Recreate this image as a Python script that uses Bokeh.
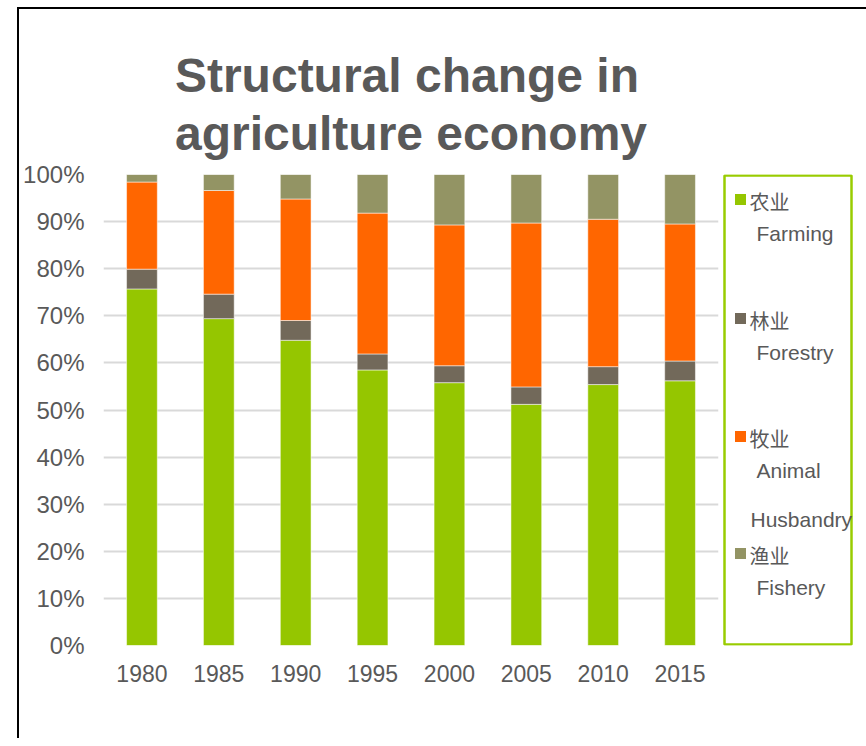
from bokeh.plotting import figure
from bokeh.layouts import row
from bokeh.models import (ColumnDataSource, Range1d, FactorRange, FixedTicker,
                          PrintfTickFormatter, InlineStyleSheet)
from bokeh.core.properties import value
from bokeh.embed import file_html
from bokeh.resources import INLINE

years = ["1980", "1985", "1990", "1995", "2000", "2005", "2010", "2015"]
farming = [75.7, 69.4, 64.8, 58.5, 55.8, 51.2, 55.4, 56.2]
forestry = [4.2, 5.2, 4.2, 3.4, 3.6, 3.7, 3.8, 4.2]
animal = [18.5, 22.0, 25.8, 29.9, 29.9, 34.8, 31.3, 29.1]
fishery = [1.6, 3.4, 5.2, 8.2, 10.7, 10.3, 9.5, 10.5]

series = ["farming", "forestry", "animal", "fishery"]
colors = ["#95c600", "#72695a", "#ff6600", "#939464"]
legend_cn = ["农业", "林业", "牧业", "渔业"]
legend_en = ["Farming", "Forestry", "Animal", "Fishery"]
y_ticks = [0, 10, 20, 30, 40, 50, 60, 70, 80, 90, 100]
title_text = "Structural change in\nagriculture economy"

TXT = "#595959"

src = ColumnDataSource(dict(years=years, farming=farming, forestry=forestry,
                            animal=animal, fishery=fishery))

# ---------------- main chart ----------------
p = figure(x_range=FactorRange(*years), y_range=Range1d(0, 100),
           width=722, height=738, output_backend="svg", toolbar_location=None,
           min_border_left=103, min_border_right=4, min_border_top=174,
           min_border_bottom=93)
p.outline_line_color = None
p.background_fill_color = "white"
p.border_fill_color = None
p.x_range.range_padding = 0
p.x_range.factor_padding = 0

p.vbar_stack(series, x="years", width=0.40, color=colors, source=src,
             line_color="white", line_width=1, line_alpha=0.5)

p.title.text = title_text
p.title.align = "center"
p.title.offset = 4
p.title.text_font = "Liberation Sans"
p.title.text_font_style = "bold"
p.title.text_font_size = "48px"
p.title.text_color = TXT
p.title.text_line_height = 1.09
p.title.standoff = 29

p.yaxis.ticker = FixedTicker(ticks=y_ticks)
p.yaxis.formatter = PrintfTickFormatter(format="%d%%")
for ax in (p.xaxis[0], p.yaxis[0]):
    ax.axis_line_color = None
    ax.major_tick_line_color = None
    ax.minor_tick_line_color = None
    ax.major_tick_in = 0
    ax.major_tick_out = 0
    ax.major_label_text_font = "Liberation Sans"
    ax.major_label_text_font_size = "23px"
    ax.major_label_text_color = TXT
p.yaxis.major_label_text_font_size = "24px"
p.yaxis.major_label_standoff = 19
p.xaxis.major_label_standoff = 19
p.xgrid.grid_line_color = None
p.ygrid.ticker = FixedTicker(ticks=y_ticks)
p.ygrid.grid_line_color = "#d9d9d9"
p.ygrid.grid_line_width = 2

# ---------------- legend panel (frame aligned with main frame) ----------------
lg = figure(x_range=Range1d(722, 866), y_range=Range1d(645, 174),
            width=144, height=738, output_backend="svg", toolbar_location=None,
            min_border=0, x_axis_location=None, y_axis_location=None)
lg.outline_line_color = None
lg.grid.grid_line_color = None
lg.background_fill_color = None
lg.border_fill_color = None

lg.quad(left=[724], right=[851], top=[175], bottom=[644], fill_color=None,
        line_color="#99cc00", line_width=2.5)

item_y = [199, 318, 436, 553]
lg.scatter(x=[740] * 4, y=item_y, marker="square", size=11, color=colors,
           line_color=None)
lg.text(x=[749] * 4, y=[y + 2 for y in item_y], text=legend_cn,
        text_baseline="middle", text_align="left",
        text_font=value("Noto Sans CJK SC"), text_font_size="20px",
        text_color=TXT)
lg.text(x=[756] * 4, y=[y + 34 for y in item_y], text=legend_en,
        text_baseline="middle", text_align="left",
        text_font=value("Liberation Sans"), text_font_size="21px",
        text_color=TXT)
lg.text(x=[750], y=[519], text=["Husbandry"], text_baseline="middle",
        text_align="left", text_font=value("Liberation Sans"),
        text_font_size="21px", text_color=TXT)

css = InlineStyleSheet(css="""
:host { position: relative; }
:host::after { content: ''; position: absolute; left: 17px; top: 7px;
  right: 0px; bottom: 0px; border-left: 2px solid black;
  border-top: 2px solid black; pointer-events: none; z-index: 100; }
""")
layout = row(p, lg, spacing=0, stylesheets=[css])

open("out.html", "w").write(file_html(layout, INLINE))
